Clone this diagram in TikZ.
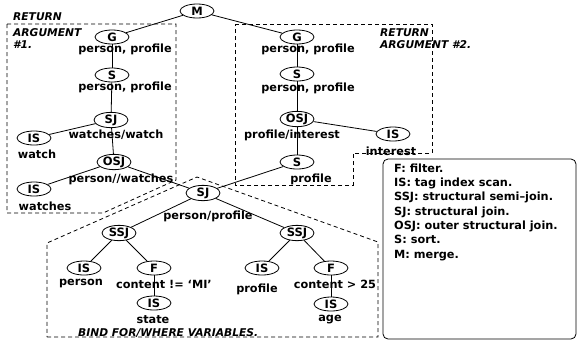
\documentclass[tikz,border=0pt]{standalone}
\usepackage{fontspec}
\setmainfont{DejaVu Sans}
\usetikzlibrary{shapes.geometric}
\tikzset{
  op/.style={ellipse, draw=black, line width=0.8pt, minimum width=34pt, minimum height=14pt, inner sep=0pt, font=\fontsize{11.5}{12}\selectfont\bfseries},
  lbl/.style={inner sep=0pt, font=\fontsize{11.3}{12}\selectfont\bfseries},
  note/.style={inner sep=0pt, anchor=west, font=\fontsize{10.7}{12}\selectfont\bfseries\itshape},
  legtext/.style={inner sep=0pt, anchor=base west, font=\fontsize{11.3}{12}\selectfont\bfseries},
  tie/.style={line width=0.8pt},
  region/.style={dash pattern=on 4pt off 3pt, line width=0.8pt},
}

\begin{document}
\begin{tikzpicture}[x=1pt, y=-1pt]
\useasboundingbox (0,0) rectangle (578,346);

% root
\node[op] (m) at (197,11) {M};

% argument #1
\node[op] (g1) at (112,37) {G};
\node[lbl] (g1l) at (125,49) {person, profile};

\node[op] (s1) at (112,75) {S};
\node[lbl] (s1l) at (125,87) {person, profile};

\node[op] (sj1) at (111,120) {SJ};
\node[lbl] (sj1l) at (116,135) {watches/watch};

\node[op] (is1) at (34,138) {IS};
\node[lbl] (is1l) at (37,154) {watch};

\node[op] (osj1) at (114,162) {OSJ};
\node[lbl] (osj1l) at (121,179) {person//watches};

\node[op] (is2) at (34,189) {IS};
\node[lbl] (is2l) at (45,206) {watches};

% argument #2
\node[op] (g2) at (297,37) {G};
\node[lbl] (g2l) at (308,49) {person, profile};

\node[op] (s2) at (297,74) {S};
\node[lbl] (s2l) at (308,88) {person, profile};

\node[op] (osj2) at (297,119) {OSJ};
\node[lbl] (osj2l) at (292,135) {profile/interest};

\node[op] (is3) at (393,134) {IS};
\node[lbl] (is3l) at (391,151) {interest};

\node[op] (s3) at (297,162) {S};
\node[lbl] (s3l) at (311,179) {profile};

% bind for/where
\node[op] (sj2) at (203,193) {SJ};
\node[lbl] (sj2l) at (208,216) {person/profile};

\node[op] (ssj1) at (119,233) {SSJ};
\node[op] (ssj2) at (297,233) {SSJ};

\node[op] (is4) at (84,268) {IS};
\node[lbl] (is4l) at (81,284) {person};

\node[op] (f1) at (154,268) {F};
\node[lbl] (f1l) at (164,284) {content != `MI'};

\node[op] (is5) at (154,303) {IS};
\node[lbl] (is5l) at (153,320) {state};

\node[op] (is6) at (262,268) {IS};
\node[lbl] (is6l) at (257,289) {profile};

\node[op] (f2) at (331,268) {F};
\node[lbl] (f2l) at (335,284) {content > 25};

\node[op] (is7) at (331,304) {IS};
\node[lbl] (is7l) at (330,320) {age};

\draw (m) edge[tie] (g1);
\draw (m) edge[tie] (g2);
\draw (g1) edge[tie] (s1);
\draw (s1) edge[tie] (sj1);
\draw (sj1) edge[tie] (is1);
\draw (sj1) edge[tie] (osj1);
\draw (osj1) edge[tie] (is2);
\draw (osj1) edge[tie] (sj2);
\draw (g2) edge[tie] (s2);
\draw (s2) edge[tie] (osj2);
\draw (osj2) edge[tie] (is3);
\draw (osj2) edge[tie] (s3);
\draw (s3) edge[tie] (sj2);
\draw (sj2) edge[tie] (ssj1);
\draw (sj2) edge[tie] (ssj2);
\draw (ssj1) edge[tie] (is4);
\draw (ssj1) edge[tie] (f1);
\draw (f1) edge[tie] (is5);
\draw (ssj2) edge[tie] (is6);
\draw (ssj2) edge[tie] (f2);
\draw (f2) edge[tie] (is7);

% dashed regions
\draw[region] (7,24) -- (176,24) -- (176,180) -- (103,213) -- (7,213) -- cycle;
\draw[region] (235,24) -- (432,24) -- (432,153) -- (353,153) -- (353,185) -- (235,185) -- cycle;
\draw[region] (47,337) -- (378,337) -- (378,242) -- (197,177) -- (47,243) -- cycle;

\node[note] (ret1) at (13,17) {RETURN};
\node[note] (arg1) at (13,33) {ARGUMENT};
\node[note] (num1) at (13,45) {\#1.};
\node[note] (ret2) at (380,33) {RETURN};
\node[note] (arg2) at (380,45) {ARGUMENT \#2.};
\node[note] (bind) at (78,333) {BIND FOR/WHERE VARIABLES.};

% legend
\draw[line width=0.8pt, rounded corners=5pt] (383,159) rectangle (576,339);
\foreach \txt [count=\i] in {F: filter., IS: tag index scan., SSJ: structural semi--join., SJ: structural join., OSJ: outer structural join., S: sort., M: merge.}
  \node[legtext] (leg\i) at (394,{158+14.3*\i}) {\txt};

\end{tikzpicture}
\end{document}
